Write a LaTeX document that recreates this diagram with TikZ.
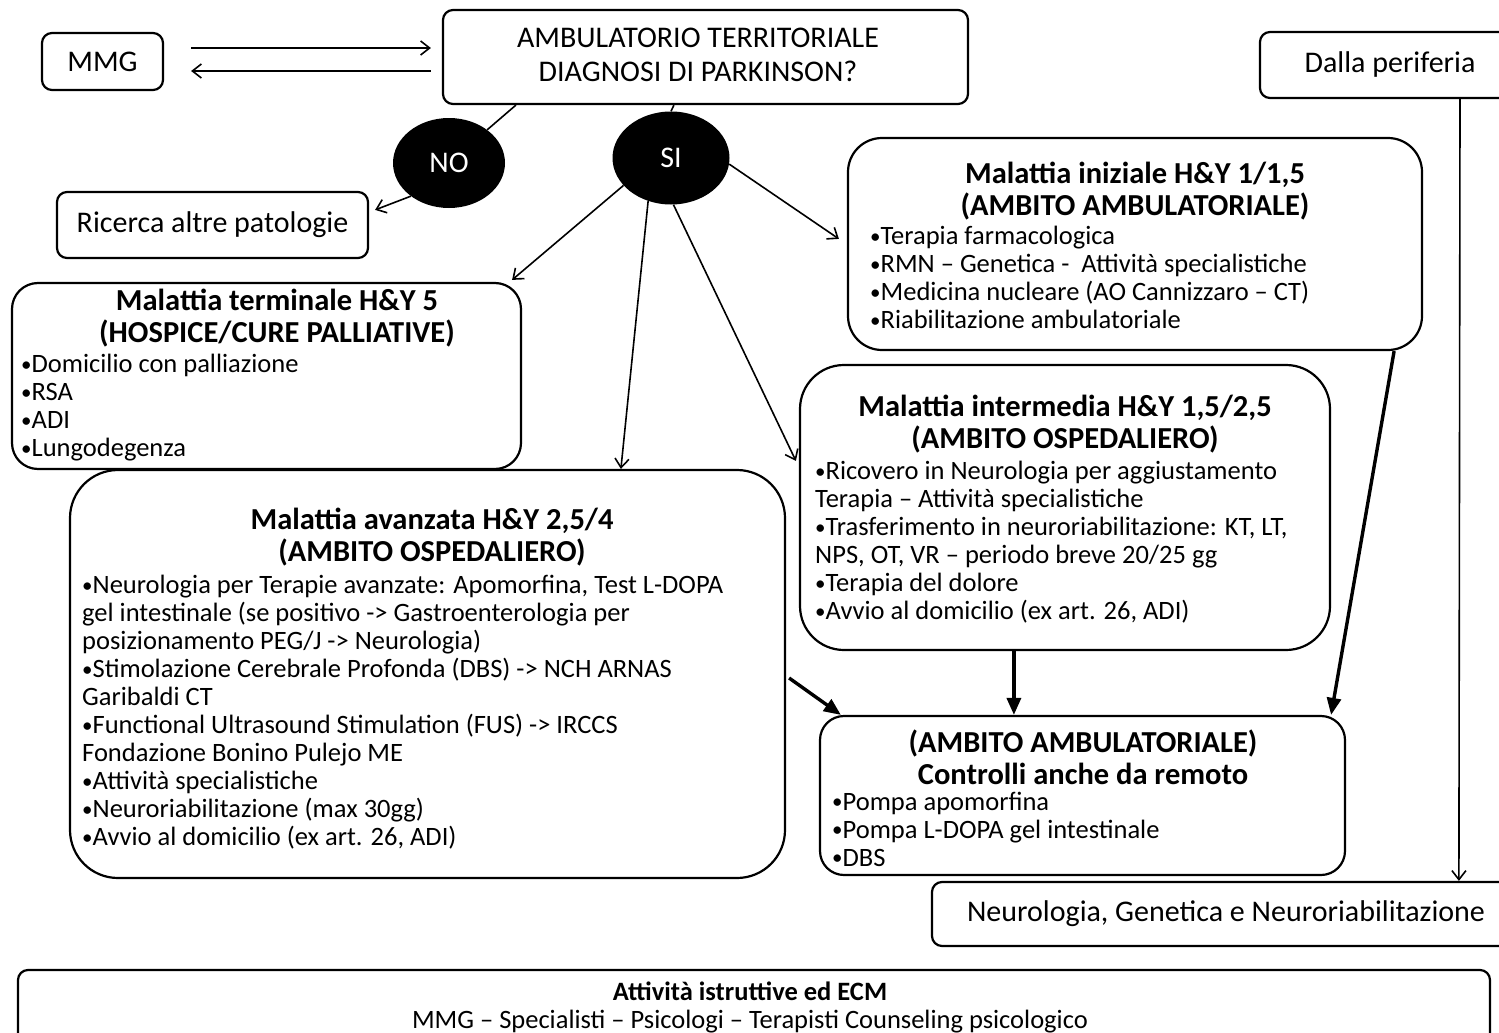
\documentclass[tikz,border=0pt]{standalone}
\usepackage{fontspec}
\setmainfont{Carlito}
\usepackage{tikz}
\usetikzlibrary{arrows.meta, calc, shapes.geometric}

% fonts used in the boxes
\newcommand{\bodyfont}{\fontsize{26.5}{28}\selectfont}
\newcommand{\headfont}{\fontsize{30.5}{32}\selectfont\bfseries}
\newcommand{\plainfont}{\fontsize{30}{34}\selectfont}
% small list bullet
\newcommand{\bul}{\raisebox{1.2pt}{\fontsize{21}{21}\selectfont•}}

\tikzset{
    box/.style={draw, line width=2.2pt, rounded corners=10pt, inner sep=0pt},
    bigbox/.style={draw, line width=2.2pt, rounded corners=38pt, inner sep=0pt},
    answer/.style={ellipse, fill=black, text=white, inner sep=0pt, font=\fontsize{30}{30}\selectfont},
    txt/.style={inner sep=0pt, font=\bodyfont, align=left, anchor=west},
    head/.style={inner sep=0pt, font=\headfont, align=center},
    link/.style={line width=1.6pt, -{Straight Barb[length=9pt, width=14pt]}},
    fatlink/.style={line width=3.4pt, -{Triangle[length=17pt, width=14pt]}}
}

\begin{document}
\begin{tikzpicture}[x=1pt, y=-1pt]
\useasboundingbox (0,0) rectangle (1499,1033);

% top row
\node[box, minimum width=121pt, minimum height=57pt, font=\plainfont] (mmg) at (102.5,61.5) {MMG};
\node[box, minimum width=525pt, minimum height=94pt] (amb) at (705.5,57) {};
\node[inner sep=0pt, font=\plainfont, align=center] (ambtxt) at (698,55)
    {AMBULATORIO TERRITORIALE\\DIAGNOSI DI PARKINSON?};
\node[box, minimum width=260pt, minimum height=66pt, font=\plainfont] (dalla) at (1390,65) {Dalla periferia};

% answers
\node[answer, minimum width=112pt, minimum height=90pt] (no) at (449,163) {NO};
\node[answer, minimum width=117pt, minimum height=93pt] (si) at (671,158) {SI};

\node[box, minimum width=311pt, minimum height=66pt, font=\plainfont] (ric) at (212.5,225) {Ricerca altre patologie};

% Malattia terminale
\node[bigbox, rounded corners=26pt, minimum width=509pt, minimum height=186pt] (term) at (266.5,376) {};
\node[head] (termhead) at (277,318.5) {Malattia terminale H\&Y 5\\(HOSPICE/CURE PALLIATIVE)};
\node[txt] (termtxt) at (21,407.5)
    {\bul Domicilio con palliazione\\\bul RSA\\\bul ADI\\\bul Lungodegenza};

% Malattia iniziale
\node[bigbox, rounded corners=34pt, minimum width=574pt, minimum height=212pt] (ini) at (1135,244) {};
\node[head] (inihead) at (1135,191) {Malattia iniziale H\&Y 1/1,5\\(AMBITO AMBULATORIALE)};
\node[txt] (initxt) at (870,277.5)
    {\bul Terapia farmacologica\\\bul RMN -- Genetica -\ \ Attività specialistiche\\%
     \bul Medicina nucleare (AO Cannizzaro -- CT)\\\bul Riabilitazione ambulatoriale};

% Malattia intermedia
\node[bigbox, rounded corners=44pt, minimum width=530pt, minimum height=285pt] (int) at (1065,507.5) {};
\node[head] (inthead) at (1065,424.5) {Malattia intermedia H\&Y 1,5/2,5\\(AMBITO OSPEDALIERO)};
\node[txt] (inttxt) at (815,542)
    {\bul Ricovero in Neurologia per aggiustamento\\Terapia -- Attività specialistiche\\%
     \bul Trasferimento in neuroriabilitazione: KT, LT,\\NPS, OT, VR -- periodo breve 20/25 gg\\%
     \bul Terapia del dolore\\\bul Avvio al domicilio (ex art. 26, ADI)};

% Malattia avanzata
\node[bigbox, rounded corners=48pt, minimum width=715pt, minimum height=408pt] (avz) at (427.5,674) {};
\node[head] (avzhead) at (432,537) {Malattia avanzata H\&Y 2,5/4\\(AMBITO OSPEDALIERO)};
\node[txt] (avztxt) at (82,712)
    {\bul Neurologia per Terapie avanzate: Apomorfina, Test L-DOPA\\%
     gel intestinale (se positivo -> Gastroenterologia per\\%
     posizionamento PEG/J -> Neurologia)\\%
     \bul Stimolazione Cerebrale Profonda (DBS) -> NCH ARNAS\\Garibaldi CT\\%
     \bul Functional Ultrasound Stimulation (FUS) -> IRCCS\\Fondazione Bonino Pulejo ME\\%
     \bul Attività specialistiche\\\bul Neuroriabilitazione (max 30gg)\\%
     \bul Avvio al domicilio (ex art. 26, ADI)};

% controlli ambulatoriali
\node[bigbox, rounded corners=24pt, minimum width=525pt, minimum height=159pt] (ctrl) at (1082.5,795.5) {};
\node[head] (ctrlhead) at (1083,757) {(AMBITO AMBULATORIALE)\\Controlli anche da remoto};
\node[txt] (ctrltxt) at (832,829)
    {\bul Pompa apomorfina\\\bul Pompa L-DOPA gel intestinale\\\bul DBS};

\node[box, minimum width=588pt, minimum height=64pt, font=\plainfont] (neuro) at (1226,914) {Neurologia, Genetica e Neuroriabilitazione};

% bottom strip
\node[box, minimum width=1472pt, minimum height=76pt] (ecm) at (754,1008) {};
\node[inner sep=0pt, align=center, font=\fontsize{26.5}{28}\selectfont] (ecmtxt) at (750,1007)
    {\textbf{Attività istruttive ed ECM}\\MMG -- Specialisti -- Psicologi -- Terapisti Counseling psicologico};

% connectors
\draw[link] ($(mmg.east)+(27,-13.5)$) -- ($(amb.west)+(-11,-9)$);
\draw[link] ($(amb.west)+(-11,14)$) -- ($(mmg.east)+(27,9.5)$);
\draw[line width=1.6pt] ($(amb.south west)+(74,0)$) -- (no.41);
\draw[line width=1.6pt] ($(amb.south west)+(232,0)$) -- (si.north);
\draw[link] (no.221) -- ($(ric.north east)+(6,19)$);
\draw[link] (si.210) -- ($(term.north east)+(-10,-2)$);
\draw[link] (si.242) -- ($(avz.north west)+(552,0)$);
\draw[link] (si.273) -- ($(int.north west)+(-3,97)$);
\draw[link] (si.354) -- ($(ini.north west)+(-8,102)$);
\draw[fatlink] ($(avz.east)+(3,4)$) -- ($(ctrl.north west)+(22,0)$);
\draw[fatlink] ($(int.south west)+(215,0)$) -- ($(ctrl.north west)+(195,0)$);
\draw[fatlink] ($(ini.south east)+(-29,0)$) -- ($(ctrl.north east)+(-15,0)$);
\draw[link] ($(dalla.south)+(70,0)$) -- ($(neuro.north west)+(528,0)$);

\end{tikzpicture}
\end{document}
